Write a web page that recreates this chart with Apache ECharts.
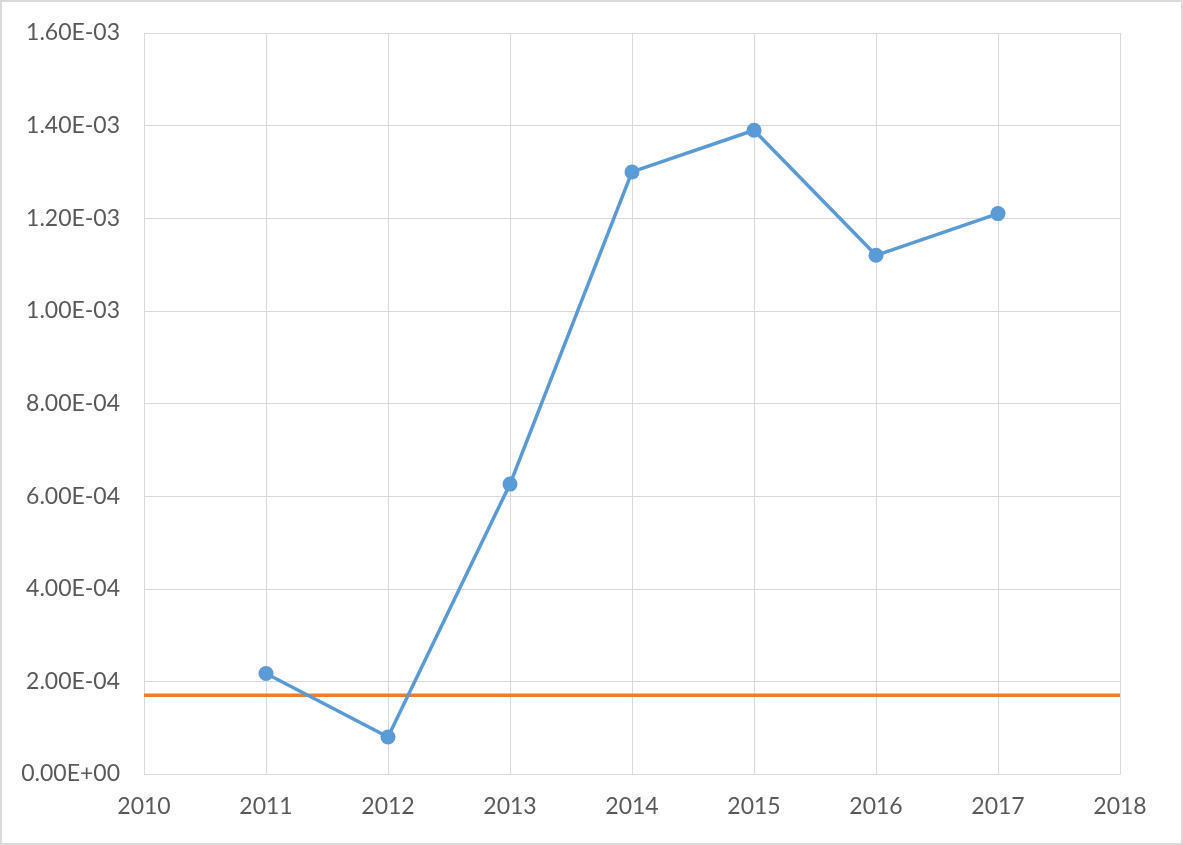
<!DOCTYPE html>
<html>
<head>
<meta charset="utf-8">
<script src="https://cdn.jsdelivr.net/npm/echarts@6/dist/echarts.min.js"></script>
<style>
html,body{margin:0;padding:0;background:#fff;}
#c{width:1183px;height:845px;box-sizing:border-box;border:2px solid #d9d9d9;}
</style>
</head>
<body>
<div id="c"></div>
<script>
const years = [2011, 2012, 2013, 2014, 2015, 2016, 2017];
const values = [2.17e-4, 0.80e-4, 6.26e-4, 1.30e-3, 1.39e-3, 1.12e-3, 1.21e-3];
const refX = [2010, 2018];
const refY = [1.70e-4, 1.70e-4];
const yTicks = ['0.00E+00','2.00E-04','4.00E-04','6.00E-04','8.00E-04','1.00E-03','1.20E-03','1.40E-03','1.60E-03'];

function fmt(v){
  if (v === 0) return '0.00E+00';
  const s = v.toExponential(2).toUpperCase();
  const m = s.match(/^(.*)E([+-])(\d+)$/);
  return m[1] + 'E' + m[2] + (m[3].length < 2 ? '0' + m[3] : m[3]);
}

const chart = echarts.init(document.getElementById('c'), null, {renderer:'canvas'});
const font = 'Lato, "Open Sans", sans-serif';
chart.setOption({
  animation:false,
  grid:{left:142, right:61, top:31, bottom:69, containLabel:false},
  xAxis:{
    type:'value', min:2010, max:2018, interval:1,
    axisLine:{show:true, lineStyle:{color:'#d9d9d9', width:1}},
    axisTick:{show:false},
    splitLine:{show:true, lineStyle:{color:'#d9d9d9', width:1}},
    axisLabel:{color:'#595959', fontSize:23, fontFamily:font, margin:21, formatter:v=>String(v)}
  },
  yAxis:{
    type:'value', min:0, max:1.6e-3, interval:2e-4,
    axisLine:{show:false}, axisTick:{show:false},
    splitLine:{show:true, lineStyle:{color:'#d9d9d9', width:1}},
    axisLabel:{color:'#595959', fontSize:23, fontFamily:font, margin:24,
      formatter:(v)=>{ const i = Math.round(v/2e-4); return yTicks[i] !== undefined ? yTicks[i] : fmt(v); }}
  },
  series:[
    {
      type:'line',
      data: refX.map((x,i)=>[x, refY[i]]),
      showSymbol:false, symbol:'none',
      lineStyle:{color:'#ed7d31', width:3.5},
      z:2
    },
    {
      type:'line',
      data: years.map((y,i)=>[y, values[i]]),
      symbol:'circle', symbolSize:15,
      itemStyle:{color:'#5b9bd5'},
      lineStyle:{color:'#5b9bd5', width:3.5},
      z:3
    }
  ]
});
</script>
</body>
</html>
